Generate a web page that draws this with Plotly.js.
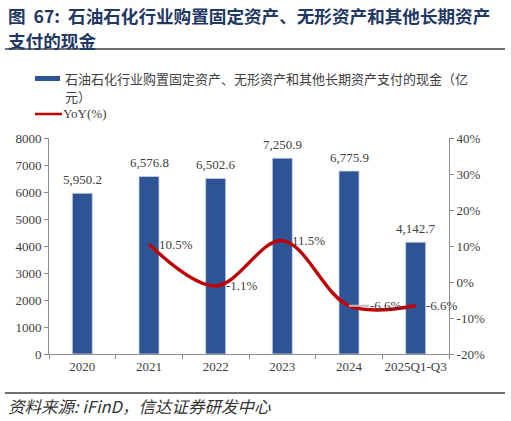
<!DOCTYPE html>
<html>
<head>
<meta charset="utf-8">
<script src="https://cdn.plot.ly/plotly-3.0.1.min.js"></script>
<style>html,body{margin:0;padding:0;background:#fff;}#chart{width:511px;height:421px;}</style>
</head>
<body>
<div id="chart"></div>
<script>
// ---- data ----
const categories = ['2020', '2021', '2022', '2023', '2024', '2025Q1-Q3'];
const capex = [5950.2, 6576.8, 6502.6, 7250.9, 6775.9, 4142.7];
const yoyCategories = ['2021', '2022', '2023', '2024', '2025Q1-Q3'];
const yoy = [10.5, -1.1, 11.5, -6.6, -6.6];
const leftTicks = [0, 1000, 2000, 3000, 4000, 5000, 6000, 7000, 8000];
const rightTicks = [-20, -10, 0, 10, 20, 30, 40];
const barNameLines = ['石油石化行业购置固定资产、无形资产和其他长期资产支付的现金（亿', '元）'];
const lineName = 'YoY(%)';
const titleLines = ['图  67:  石油石化行业购置固定资产、无形资产和其他长期资产', '支付的现金'];
const sourceText = '资料来源: iFinD，信达证券研发中心';

// ---- geometry helpers (pixel -> paper) ----
const L = 49, R = 449, T = 138, B = 354;
const px = x => (x - L) / (R - L);
const py = y => (B - y) / (B - T);

const serif = 'Liberation Serif, Times New Roman, serif';
const cjk = 'Noto Sans CJK SC, sans-serif';
const txtColor = '#404040';
const axisColor = '#8c8c8c';

const fmt = v => v.toLocaleString('en-US', { minimumFractionDigits: 1, maximumFractionDigits: 1 });

const bars = {
  type: 'bar', x: categories, y: capex, name: barNameLines.join(''),
  marker: { color: '#2F5496', line: { color: '#c9d3e6', width: 0.8 } },
  width: 0.3,
  showlegend: false, hoverinfo: 'skip'
};
const line = {
  type: 'scatter', mode: 'lines', x: yoyCategories, y: yoy, yaxis: 'y2', name: lineName,
  line: { color: '#C00000', width: 3.4, shape: 'spline', smoothing: 1 },
  showlegend: false, hoverinfo: 'skip'
};

const annotations = [];
// bar value labels
categories.forEach((c, i) => {
  annotations.push({
    x: i, y: capex[i], xref: 'x', yref: 'y',
    text: fmt(capex[i]), showarrow: false,
    xanchor: 'center', yanchor: 'bottom', yshift: 5, borderpad: 0,
    font: { family: serif, size: 13, color: txtColor }
  });
});
// YoY labels
yoyCategories.forEach((c, i) => {
  const isLeader = i === 3;
  annotations.push({
    x: categories.indexOf(c), y: yoy[i], xref: 'x', yref: 'y2',
    text: yoy[i].toFixed(1) + '%',
    font: { family: serif, size: 13, color: txtColor },
    xanchor: 'left', yanchor: 'middle',
    showarrow: isLeader, arrowhead: 0, arrowcolor: '#bfbfbf', arrowwidth: 2,
    ax: isLeader ? 20 : 0, ay: 0, standoff: 0,
    xshift: isLeader ? 0 : 9, borderpad: 0
  });
});
// title
titleLines.forEach((t, i) => {
  annotations.push({
    x: px(6), y: py(i === 0 ? 15 : 40), xref: 'paper', yref: 'paper', xanchor: 'left', yanchor: 'middle',
    text: '<b>' + t + '</b>', showarrow: false, font: { family: cjk, size: 17.6, color: '#1F3864' }
  });
});
// legend text
barNameLines.forEach((t, i) => {
  annotations.push({
    x: px(64), y: py(i === 0 ? 78 : 97), xref: 'paper', yref: 'paper', xanchor: 'left', yanchor: 'middle',
    text: t, showarrow: false, font: { family: cjk, size: 13, color: txtColor }, borderpad: 0
  });
});
annotations.push({
  x: px(62), y: py(114), xref: 'paper', yref: 'paper', xanchor: 'left', yanchor: 'middle',
  text: lineName, showarrow: false, font: { family: serif, size: 13, color: txtColor }, borderpad: 0
});
// source
annotations.push({
  x: px(6), y: py(406), xref: 'paper', yref: 'paper', xanchor: 'left', yanchor: 'middle',
  text: '<i>' + sourceText + '</i>', showarrow: false,
  font: { family: 'Noto Sans CJK SC, Liberation Sans, sans-serif', size: 16.5, color: '#333' }
});

const shapes = [
  { type: 'line', xref: 'paper', yref: 'paper', x0: px(5), x1: px(505), y0: py(49), y1: py(49), line: { color: '#404040', width: 1.5 } },
  { type: 'line', xref: 'paper', yref: 'paper', x0: px(5), x1: px(505), y0: py(393), y1: py(393), line: { color: '#404040', width: 1.5 } },
  { type: 'rect', xref: 'paper', yref: 'paper', x0: px(35), x1: px(60), y0: py(76), y1: py(81), fillcolor: '#2F5496', line: { width: 0 } },
  { type: 'line', xref: 'paper', yref: 'paper', x0: px(35), x1: px(62), y0: py(114), y1: py(114), line: { color: '#C00000', width: 2.5 } }
];

const mkAxis = extra => Object.assign({
  showline: true, linecolor: axisColor, linewidth: 1,
  ticks: 'outside', ticklen: 4, tickcolor: axisColor,
  showgrid: false, zeroline: false,
  tickfont: { family: serif, size: 13, color: txtColor }
}, extra);

const layout = {
  width: 511, height: 421,
  margin: { l: L, r: 511 - R, t: T, b: 421 - B },
  paper_bgcolor: '#fff', plot_bgcolor: '#fff',
  xaxis: mkAxis({ type: 'category', tickson: 'boundaries', tickangle: 0, range: [-0.5, categories.length - 0.5], autorange: false }),
  yaxis: mkAxis({ range: [0, 8000], autorange: false, tickmode: 'array', tickvals: leftTicks, ticktext: leftTicks.map(String) }),
  yaxis2: mkAxis({ overlaying: 'y', side: 'right', range: [-20, 40], autorange: false, tickmode: 'array', tickvals: rightTicks, ticktext: rightTicks.map(v => v + '%') }),
  showlegend: false,
  annotations: annotations,
  shapes: shapes
};

Plotly.newPlot('chart', [bars, line], layout, { displayModeBar: false });
</script>
</body>
</html>
